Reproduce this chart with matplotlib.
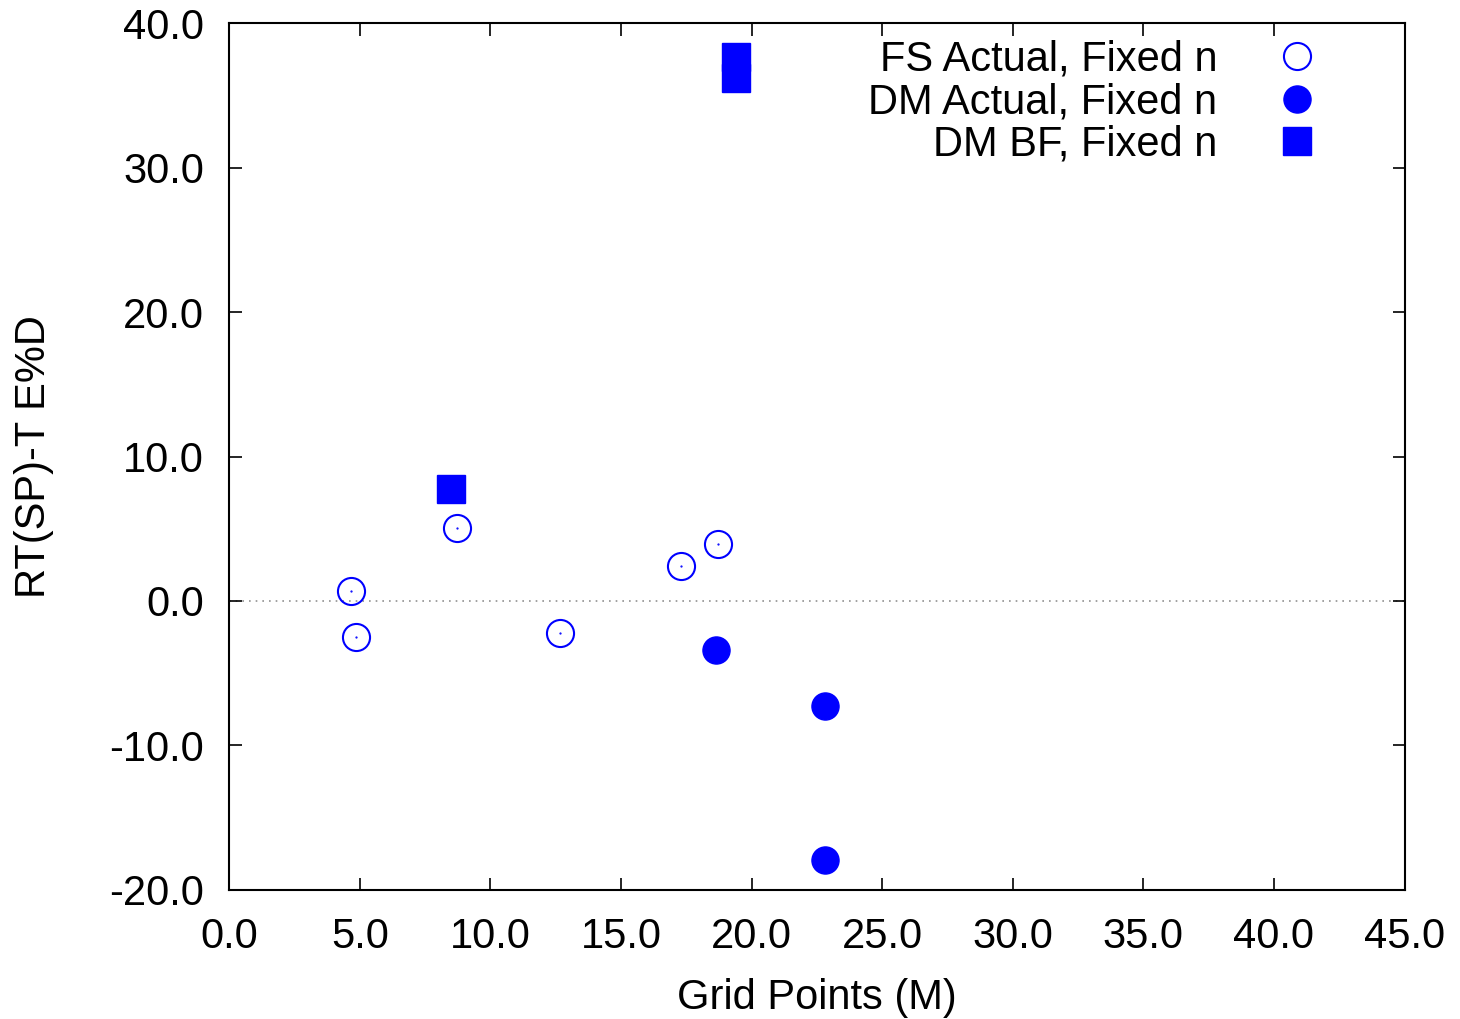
import matplotlib
matplotlib.use('Agg')
import matplotlib.pyplot as plt
from matplotlib.ticker import FormatStrFormatter, MultipleLocator

plt.rcParams['font.family'] = ['Liberation Sans', 'DejaVu Sans']

# FS Actual, Fixed n (open circles)
fs_x = [4.66, 4.86, 8.74, 12.67, 17.30, 18.70]
fs_y = [0.71, -2.47, 5.03, -2.21, 2.44, 3.94]

# DM Actual, Fixed n (filled circles)
dm_x = [18.65, 22.81, 22.81]
dm_y = [-3.41, -7.31, -17.92]

# DM BF, Fixed n (filled squares)
bf_x = [8.50, 19.42, 19.42]
bf_y = [7.73, 37.7, 36.2]

blue = '#0000ff'
ms = 19.5
fs = 30

fig = plt.figure(figsize=(14.6, 10.19), dpi=100)
ax = fig.add_axes([0.157, 0.127, 0.805, 0.850])

ax.axhline(0, color='#909090', linestyle=(0, (1, 3)), linewidth=1.2, zorder=1)

ax.plot(fs_x, fs_y, 'o', markersize=ms, markerfacecolor='none',
        markeredgecolor=blue, markeredgewidth=1.5, label='FS Actual, Fixed n')
ax.plot(fs_x, fs_y, '.', markersize=1.2, color=blue)
ax.plot(dm_x, dm_y, 'o', markersize=ms, color=blue, label='DM Actual, Fixed n')
ax.plot(bf_x, bf_y, 's', markersize=ms, color=blue, label='DM BF, Fixed n')

ax.set_xlim(0, 45)
ax.set_ylim(-20, 40)
ax.xaxis.set_major_locator(MultipleLocator(5))
ax.yaxis.set_major_locator(MultipleLocator(10))
ax.xaxis.set_major_formatter(FormatStrFormatter('%.1f'))
ax.yaxis.set_major_formatter(FormatStrFormatter('%.1f'))

ax.tick_params(direction='in', length=9, width=1.2, top=True, right=True,
               labelsize=fs)
ax.tick_params(axis='x', pad=19.5)
ax.tick_params(axis='y', pad=18)
for s in ax.spines.values():
    s.set_linewidth(1.5)

ax.set_xlabel('Grid Points (M)', fontsize=fs, labelpad=15)
ax.set_ylabel('RT(SP)-T E%D', fontsize=fs, labelpad=40)

leg = ax.legend(loc='upper right', bbox_to_anchor=(0.926, 0.981),
                borderaxespad=0, borderpad=0, frameon=False, markerfirst=False,
                fontsize=fs, handlelength=1.0, handletextpad=1.4,
                labelspacing=0.055, numpoints=1)

fig.savefig('out.png', dpi=100)
